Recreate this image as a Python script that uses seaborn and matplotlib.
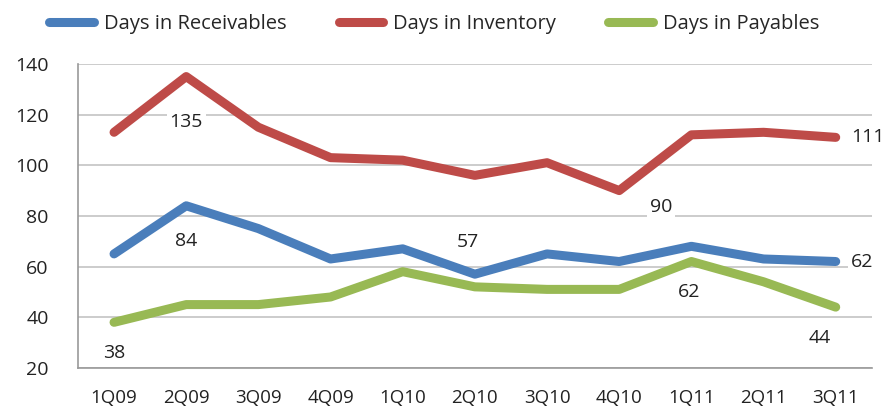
import matplotlib
matplotlib.use("Agg")
import matplotlib.pyplot as plt
import seaborn as sns
import pandas as pd
import numpy as np

quarters = ["1Q09", "2Q09", "3Q09", "4Q09", "1Q10", "2Q10",
            "3Q10", "4Q10", "1Q11", "2Q11", "3Q11"]
receivables = [65, 84, 75, 63, 67, 57, 65, 62, 68, 63, 62]
inventory = [113, 135, 115, 103, 102, 96, 101, 90, 112, 113, 111]
payables = [38, 45, 45, 48, 58, 52, 51, 51, 62, 54, 44]

series_names = ["Days in Receivables", "Days in Inventory", "Days in Payables"]
colors = ["#4a7ebb", "#be4b48", "#98b954"]

frames = []
for name, vals in zip(series_names, [receivables, inventory, payables]):
    frames.append(pd.DataFrame({"pos": np.arange(len(quarters)),
                                "quarter": quarters,
                                "value": vals,
                                "series": name}))
df = pd.concat(frames, ignore_index=True)

sns.set_style("white")
plt.rcParams["font.family"] = ["Open Sans", "DejaVu Sans"]

fig = plt.figure(figsize=(8.96, 4.07), dpi=100)
ax = fig.add_axes([0.087, 0.096, 0.886, 0.747])

sns.lineplot(data=df, x="pos", y="value", hue="series", hue_order=series_names,
             palette=colors, linewidth=6.5, ax=ax, sort=False,
             solid_capstyle="round", solid_joinstyle="round", legend=False)

ax.set_xlim(-0.5, len(quarters) - 0.5)
ax.set_ylim(20, 140)
ax.set_yticks(range(20, 141, 20))
ax.yaxis.grid(True, color="#c4c4c4", linewidth=1.2, zorder=0)
ax.set_axisbelow(True)
ax.set_xlabel("")
ax.set_ylabel("")

ax.set_xticks(np.arange(len(quarters)))
ax.set_xticklabels(quarters)
ax.set_xticks(np.arange(-0.5, len(quarters)), minor=True)
ax.tick_params(axis="x", which="major", length=0, labelsize=13.5, pad=15, colors="#222222")
ax.tick_params(axis="x", which="minor", length=5, width=1, color="#999999", direction="out")
ax.tick_params(axis="y", length=5, width=1, color="#999999", direction="out",
               labelsize=14, pad=16, labelcolor="#222222")

for side in ["top", "right"]:
    ax.spines[side].set_visible(False)
for side in ["left", "bottom"]:
    ax.spines[side].set_color("#999999")
    ax.spines[side].set_linewidth(1.2)


def label(idx, vals, dx, dy):
    """Write a series value next to its point (dx in categories, dy in points)."""
    ax.annotate(str(vals[idx]), xy=(idx + dx, vals[idx]), xytext=(0, dy),
                textcoords="offset points", ha="center", va="center",
                fontsize=14, color="#222222",
                bbox=dict(boxstyle="square,pad=0.15", fc="white", ec="none"))


label(1, inventory, 0, -33)
label(1, receivables, 0, -25)
label(0, payables, 0, -22)
label(5, receivables, -0.1, 23)
label(7, inventory, 0.58, -12)
label(8, payables, -0.03, -22)
label(10, inventory, 0.44, 0)
label(10, receivables, 0.37, 0)
label(10, payables, -0.22, -22)

# legend across the top
handles = [plt.Line2D([0], [0], color=c, linewidth=6.5, solid_capstyle="round")
           for c in colors]
fig.legend(handles, series_names, loc="upper left", bbox_to_anchor=(0.035, 1.01),
           ncol=3, frameon=False, fontsize=14.5, handlelength=2.2,
           columnspacing=2.6, handletextpad=0.5)

fig.savefig("out.png", dpi=100)
